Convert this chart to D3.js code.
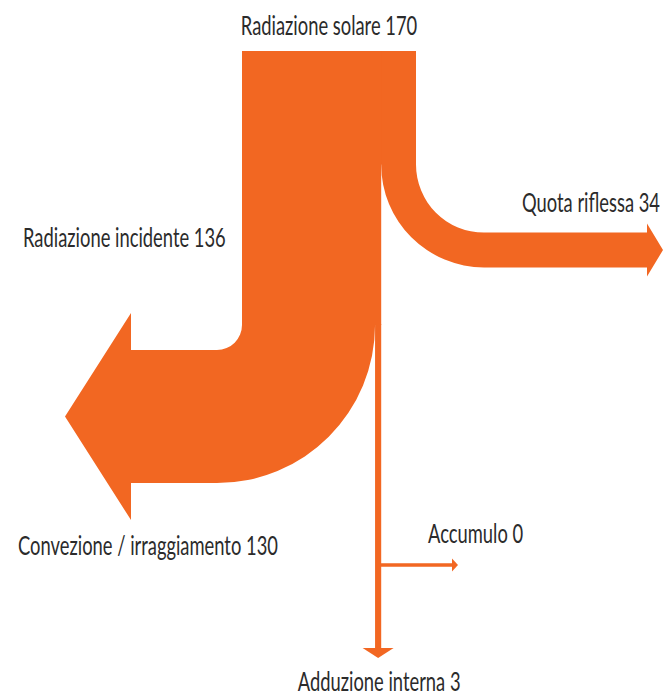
<!DOCTYPE html>
<html>
<head>
<meta charset="utf-8">
<script src="https://cdn.jsdelivr.net/npm/d3@7"></script>
<style>
  body { margin: 0; background: #fff; }
  svg text { font-family: Lato, "DejaVu Sans", sans-serif; fill: #2b2b2b; }
</style>
</head>
<body>
<svg width="664" height="696"></svg>
<script>
// flows of the energy balance
var flowLabels = ["Radiazione solare", "Quota riflessa", "Radiazione incidente",
                  "Convezione / irraggiamento", "Accumulo", "Adduzione interna"];
var flowValues = [170, 34, 136, 130, 0, 3];

var svg = d3.select("svg");
var orange = "#f26722";

// width scale: value -> band thickness in px
var w = d3.scaleLinear().domain([0, 170]).range([0, 174]);

var x0 = 242, yTop = 51;
var wIn = w(flowValues[2]), wRef = w(flowValues[1]), wConv = w(flowValues[3]);
var xSplit = x0 + wIn;          // border between incidente and riflessa
var xRight = xSplit + wRef;

// ---- riflessa band, turns right ----
var ri = 68, cyR = 164.6, cxR = xRight + ri;
var ro = ri + wRef;
var headX = 647, tipX = 663, headExtra = 9;
var p = d3.path();
p.moveTo(xSplit - 1, yTop);     // overlap 1px so no seam shows in the top block
p.lineTo(xRight, yTop);
p.lineTo(xRight, cyR);
p.arc(cxR, cyR, ri, Math.PI, Math.PI / 2, true);
p.lineTo(headX, cyR + ri);
p.lineTo(headX, cyR + ri - headExtra);
p.lineTo(tipX, cyR + ri + wRef / 2);
p.lineTo(headX, cyR + ro + headExtra);
p.lineTo(headX, cyR + ro);
p.lineTo(cxR, cyR + ro);
p.arc(cxR, cyR, ro, Math.PI / 2, Math.PI, false);
p.lineTo(xSplit - 1, cyR);
p.closePath();
svg.append("path").attr("d", p.toString()).attr("fill", orange);

// ---- incidente band, turns left into convezione ----
var ri2 = 25, cy2 = 325, cx2 = x0 - ri2;
var ro2 = ri2 + wConv;
var headX2 = 131, tipX2 = 65, headExtra2 = 37;
var q = d3.path();
q.moveTo(x0, yTop);
q.lineTo(xSplit, yTop);
q.lineTo(xSplit, cy2);
q.lineTo(cx2 + ro2, cy2);
q.arc(cx2, cy2, ro2, 0, Math.PI / 2, false);
q.lineTo(headX2, cy2 + ro2);
q.lineTo(headX2, cy2 + ro2 + headExtra2);
q.lineTo(tipX2, cy2 + ri2 + wConv / 2);
q.lineTo(headX2, cy2 + ri2 - headExtra2);
q.lineTo(headX2, cy2 + ri2);
q.lineTo(cx2, cy2 + ri2);
q.arc(cx2, cy2, ri2, Math.PI / 2, 0, true);
q.closePath();
svg.append("path").attr("d", q.toString()).attr("fill", orange);

// ---- thin line down: adduzione interna (residual of incidente) ----
var lineW = wIn - wConv;
var lineX = xSplit - lineW / 2;
var lineEnd = 648;
svg.append("rect")
    .attr("x", xSplit - lineW).attr("y", cy2 - 1)
    .attr("width", lineW).attr("height", lineEnd - cy2 + 1)
    .attr("fill", orange);
svg.append("path")
    .attr("d", d3.line()([[lineX - 15.5, lineEnd], [lineX + 15.5, lineEnd], [lineX, lineEnd + 10]]) + "Z")
    .attr("fill", orange);

// ---- accumulo branch ----
var accY = 565, accW = Math.max(w(flowValues[4]), 3.5), accEnd = 452;
svg.append("rect")
    .attr("x", xSplit - 1).attr("y", accY - accW / 2)
    .attr("width", accEnd - xSplit + 1).attr("height", accW)
    .attr("fill", orange);
svg.append("path")
    .attr("d", d3.line()([[accEnd, accY - 6.5], [accEnd + 6, accY], [accEnd, accY + 6.5]]) + "Z")
    .attr("fill", orange);

// ---- labels (condensed by a horizontal scale, no narrow font available) ----
var labelPos = [
  { x: x0 + w(170) / 2, y: 35, anchor: "middle" },
  { x: 660, y: 212, anchor: "end" },
  { x: 23, y: 247, anchor: "start" },
  { x: 18, y: 555, anchor: "start" },
  { x: 428, y: 543, anchor: "start" },
  { x: lineX + 1, y: 691, anchor: "middle" }
];
var labels = svg.selectAll("text.lbl")
    .data(flowLabels)
    .enter().append("text")
    .attr("class", "lbl")
    .attr("text-anchor", function (d, i) { return labelPos[i].anchor; })
    .attr("font-size", 26)
    .text(function (d, i) { return d + " " + flowValues[i]; });

// squeeze so the longest label has the reference width (~260px)
var sx = 260 / labels.nodes()[3].getComputedTextLength();
labels.attr("transform", function (d, i) {
    return "translate(" + labelPos[i].x + "," + labelPos[i].y + ") scale(" + sx + ",1)";
});
</script>
</body>
</html>
